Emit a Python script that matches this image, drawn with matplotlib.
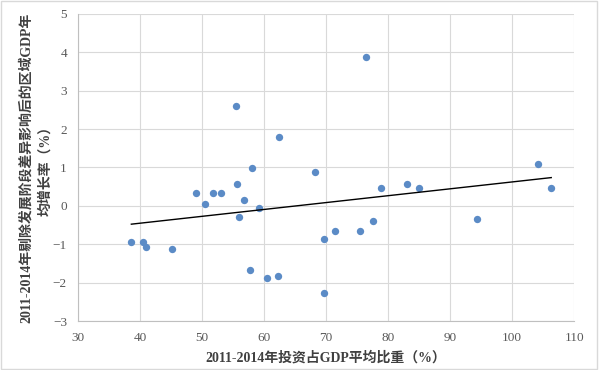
import matplotlib
matplotlib.use("Agg")
import matplotlib.pyplot as plt
import numpy as np
from matplotlib.patches import Rectangle

# investment share of GDP (%), 2011-2014
invest_share = [38.6, 40.5, 41.0, 45.1, 49.0, 50.5, 51.8, 53.1, 55.5, 55.7,
                56.0, 56.8, 57.7, 58.0, 59.2, 60.5, 62.4, 62.3, 68.2, 69.6,
                69.6, 71.5, 75.4, 76.5, 77.5, 78.9, 83.1, 84.9, 94.3, 104.2,
                106.3]
# adjusted regional GDP growth (%)
gdp_growth = [-0.95, -0.95, -1.08, -1.13, 0.33, 0.04, 0.33, 0.33, 2.61, 0.565,
              -0.29, 0.15, -1.67, 0.98, -0.06, -1.88, 1.79, -1.82, 0.88, -0.87,
              -2.27, -0.66, -0.66, 3.87, -0.40, 0.46, 0.565, 0.46, -0.35, 1.09,
              0.46]

x_ticks = [30, 40, 50, 60, 70, 80, 90, 100, 110]
y_ticks = [-3, -2, -1, 0, 1, 2, 3, 4, 5]

x_label = "2011-2014年投资占GDP平均比重（%）"
y_label = "2011-2014年剔除发展阶段差异影响后的区域GDP年\n均增长率（%）"

label_font = ["Liberation Serif", "Noto Sans CJK SC"]
plt.rcParams["font.family"] = label_font

fig = plt.figure(figsize=(6.0, 3.7), dpi=100)
ax = fig.add_axes([0.13, 0.1324, 0.827, 0.8298])

ax.scatter(invest_share, gdp_growth, s=28, color="#5B8BC6", zorder=3, linewidths=0)

# linear trend line
coef = np.polyfit(invest_share, gdp_growth, 1)
xs = np.array([min(invest_share), max(invest_share)])
ax.plot(xs, np.polyval(coef, xs), color="black", lw=1.0, zorder=4)

ax.set_xlim(30, 110)
ax.set_ylim(-3, 5)
ax.set_xticks(x_ticks)
ax.set_yticks(y_ticks)
ax.grid(True, color="#D9D9D9", lw=0.8)
ax.set_axisbelow(True)
for side in ["top", "right"]:
    ax.spines[side].set_visible(False)
for side in ["left", "bottom"]:
    ax.spines[side].set_color("#BFBFBF")
    ax.spines[side].set_linewidth(0.8)
ax.tick_params(length=0, colors="#595959", labelsize=9.5, pad=8)

ax.set_xlabel(x_label, fontsize=10, fontweight="bold", color="#404040", labelpad=5)
ax.set_ylabel(y_label, fontsize=10, fontweight="bold", color="#404040", linespacing=1.55)
ax.yaxis.set_label_coords(-0.052, 0.5)

fig.patches.append(Rectangle((0.002, 0.004), 0.993, 0.992, transform=fig.transFigure,
                             fill=False, edgecolor="#D9D9D9", lw=1))

fig.savefig("out.png", dpi=100)
